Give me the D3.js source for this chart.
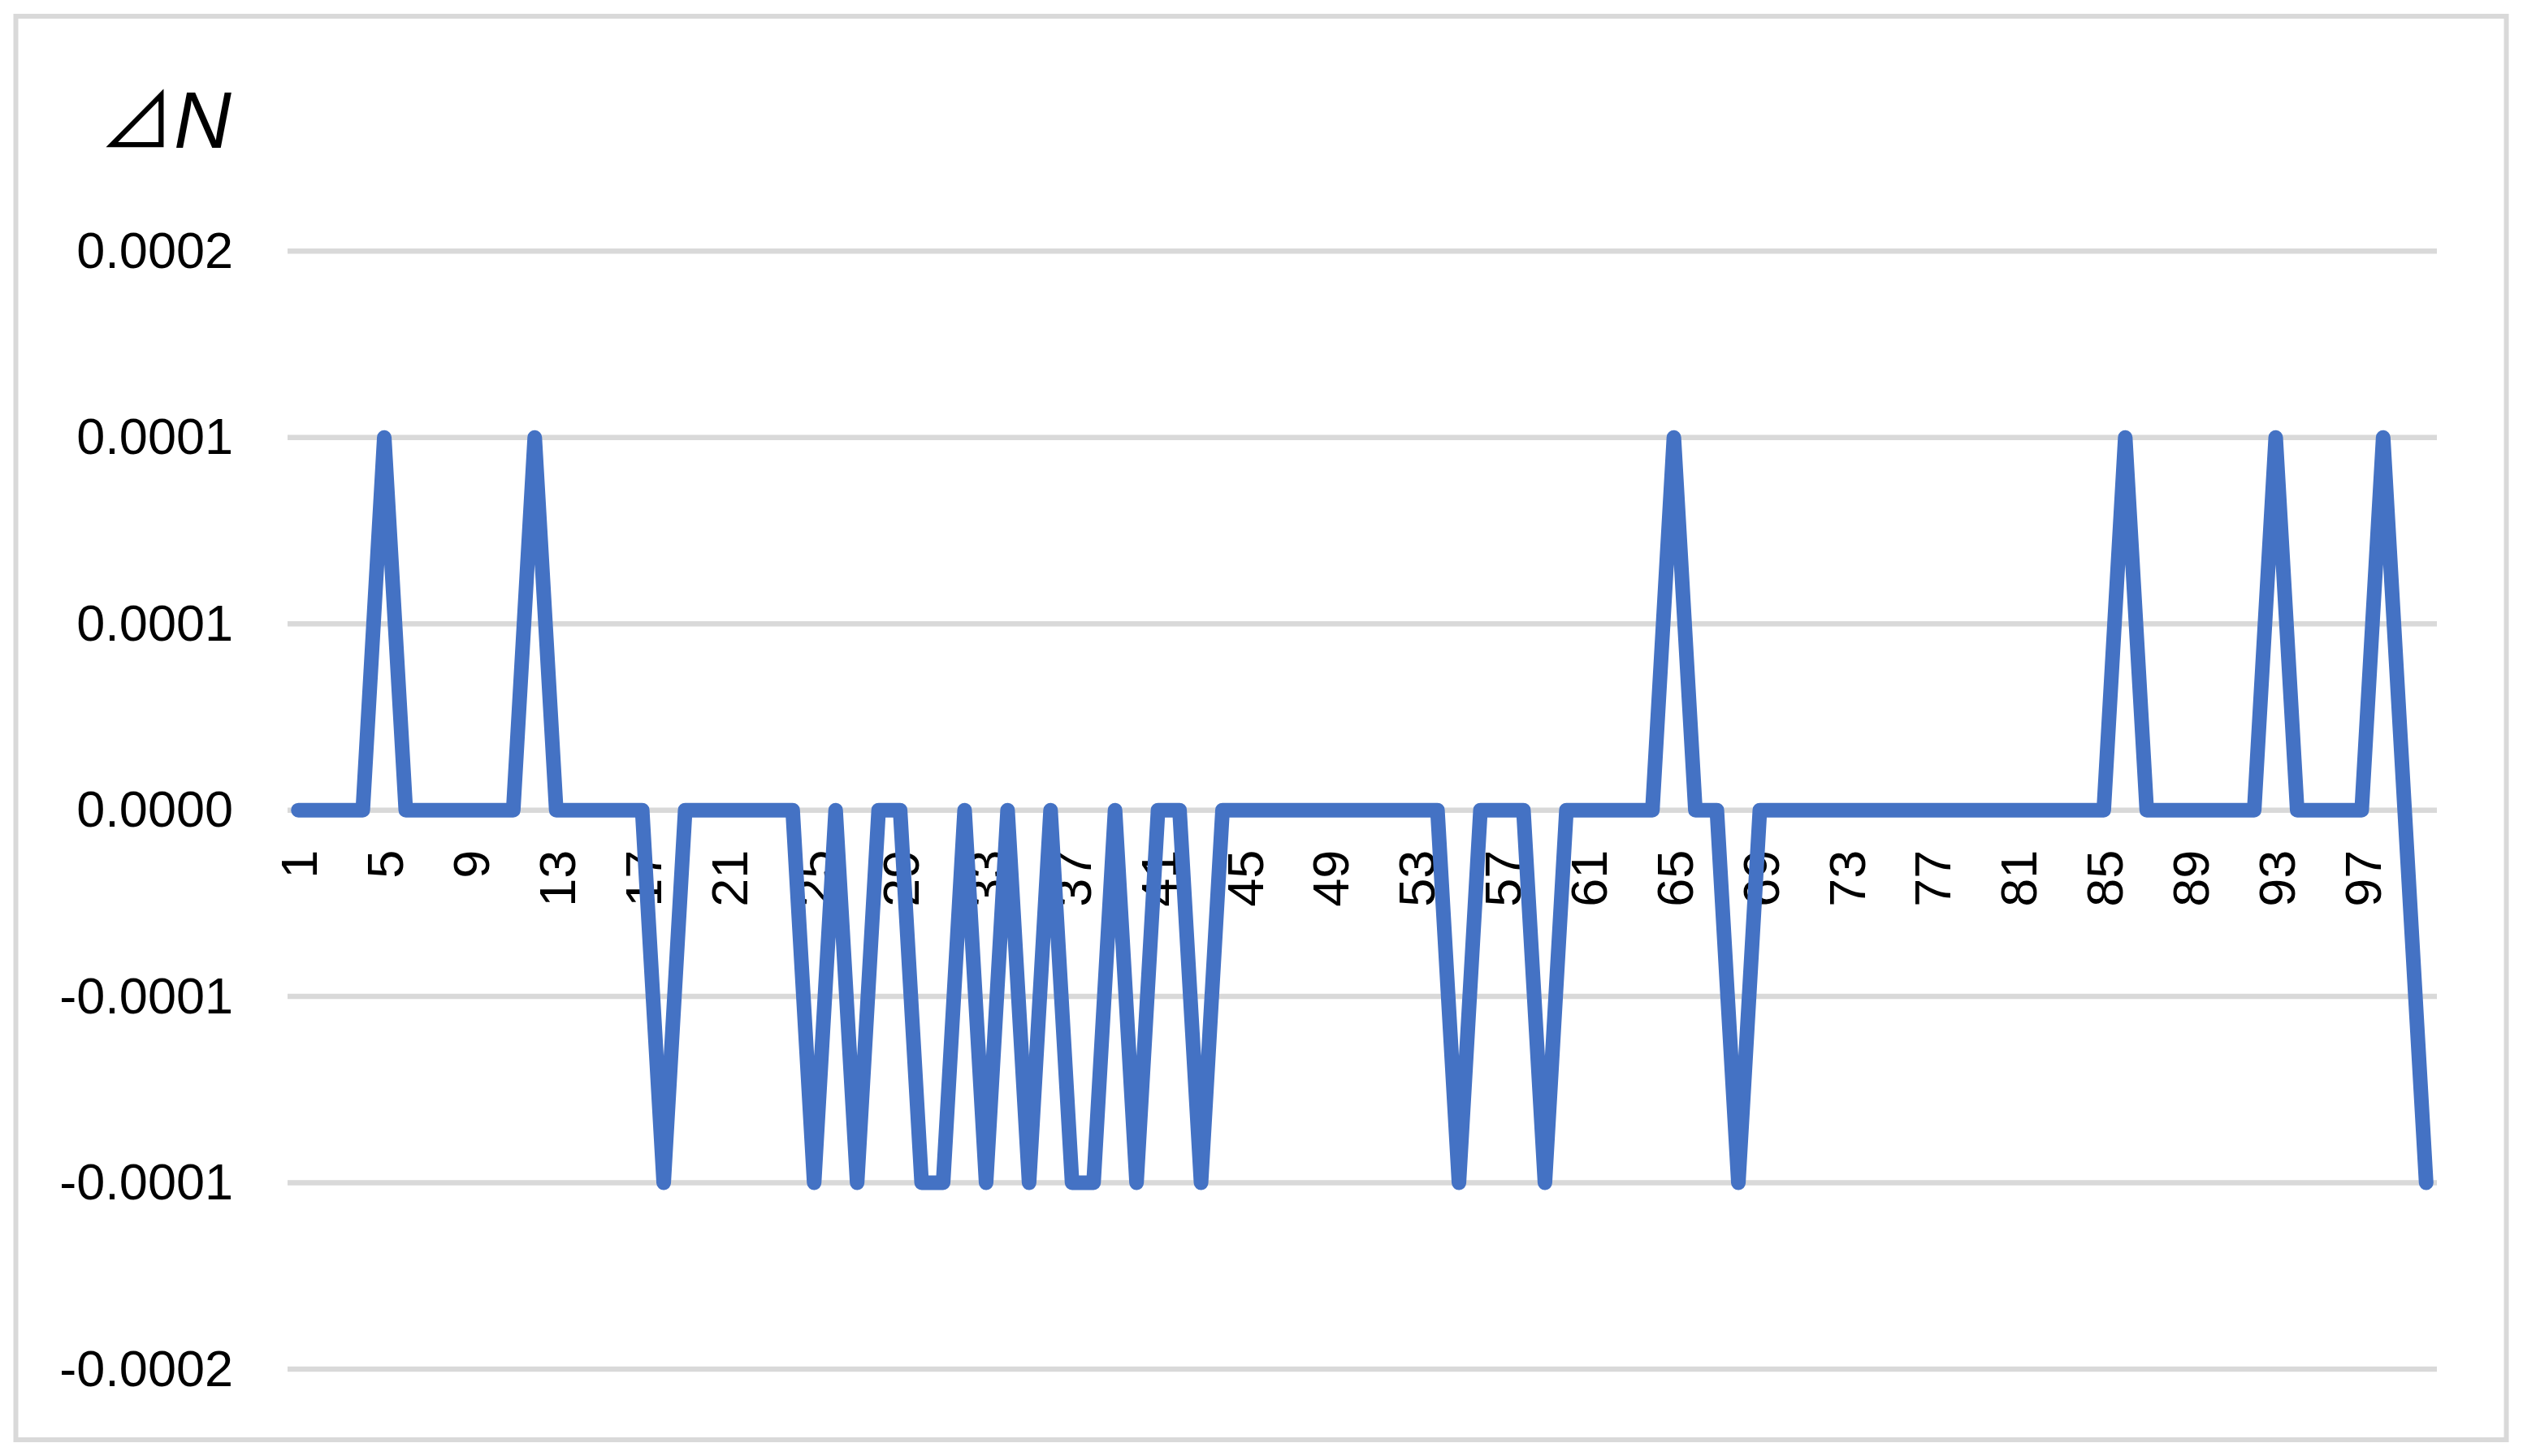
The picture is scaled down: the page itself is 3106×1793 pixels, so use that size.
<!DOCTYPE html>
<html>
<head>
<meta charset="utf-8">
<script src="https://cdn.jsdelivr.net/npm/d3@7"></script>
<style>
  html, body { margin: 0; padding: 0; background: #fff; }
  svg { display: block; }
</style>
</head>
<body>
<svg class="chart"></svg>
<script>
// category index 1..100
const categories = d3.range(1, 101);
const xTickLabels = [1, 5, 9, 13, 17, 21, 25, 29, 33, 37, 41, 45, 49, 53, 57, 61, 65, 69, 73, 77, 81, 85, 89, 93, 97];

const deltaN = [
  0, 0, 0, 0, 0.0001, 0, 0, 0, 0, 0,
  0, 0.0001, 0, 0, 0, 0, 0, -0.0001, 0, 0,
  0, 0, 0, 0, -0.0001, 0, -0.0001, 0, 0, -0.0001,
  -0.0001, 0, -0.0001, 0, -0.0001, 0, -0.0001, -0.0001, 0, -0.0001,
  0, 0, -0.0001, 0, 0, 0, 0, 0, 0, 0,
  0, 0, 0, 0, -0.0001, 0, 0, 0, -0.0001, 0,
  0, 0, 0, 0, 0.0001, 0, 0, -0.0001, 0, 0,
  0, 0, 0, 0, 0, 0, 0, 0, 0, 0,
  0, 0, 0, 0, 0, 0.0001, 0, 0, 0, 0,
  0, 0, 0.0001, 0, 0, 0, 0, 0.0001, 0, -0.0001
];

const yTickValues = [-0.00015, -0.0001, -0.00005, 0, 0.00005, 0.0001, 0.00015];
const yTickLabels = ['-0.0002', '-0.0001', '-0.0001', '0.0000', '0.0001', '0.0001', '0.0002'];

const w = 3106;
const h = 1793;
const plot = { left: 354, right: 3000, top: 309.3, bottom: 1686 };
const font = "'Liberation Sans', Arial, sans-serif";

const svg = d3.select('.chart')
  .attr('width', w)
  .attr('height', h);

// outer frame
svg.append('rect')
  .attr('x', 19.5)
  .attr('y', 20)
  .attr('width', 3066)
  .attr('height', 1753)
  .attr('fill', '#fff')
  .attr('stroke', '#d9d9d9')
  .attr('stroke-width', 6);

const xScale = d3.scalePoint()
  .domain(categories)
  .range([plot.left, plot.right])
  .padding(0.5);

const yScale = d3.scaleLinear()
  .domain([-0.00015, 0.00015])
  .range([plot.bottom, plot.top]);

// gridlines
svg.append('g')
  .attr('class', 'grid')
  .selectAll('line')
  .data(yTickValues)
  .enter()
  .append('line')
  .attr('x1', plot.left)
  .attr('x2', plot.right)
  .attr('y1', d => yScale(d))
  .attr('y2', d => yScale(d))
  .attr('stroke', '#d9d9d9')
  .attr('stroke-width', 6.5);

// y axis labels
const yAxis = svg.append('g')
  .attr('class', 'y-axis')
  .attr('transform', `translate(${plot.left}, 0)`)
  .call(d3.axisLeft(yScale)
    .tickValues(yTickValues)
    .tickSize(0)
    .tickPadding(67)
    .tickFormat((d, i) => yTickLabels[i]));
yAxis.select('.domain').remove();
yAxis.selectAll('text')
  .attr('fill', '#000')
  .style('font-family', font)
  .style('font-size', '63px');

// x axis labels (rotated, at the zero line)
const xAxis = svg.append('g')
  .attr('class', 'x-axis')
  .attr('transform', `translate(0, ${yScale(0)})`)
  .call(d3.axisBottom(xScale)
    .tickValues(xTickLabels)
    .tickSize(0));
xAxis.select('.domain').remove();
xAxis.selectAll('text')
  .attr('fill', '#000')
  .attr('y', 0)
  .attr('x', -49)
  .attr('dy', '0.36em')
  .attr('transform', 'rotate(-90)')
  .attr('text-anchor', 'end')
  .style('font-family', font)
  .style('font-size', '63px');

// series line
const line = d3.line()
  .x((d, i) => xScale(categories[i]))
  .y(d => yScale(d));

svg.append('path')
  .datum(deltaN)
  .attr('d', line)
  .attr('fill', 'none')
  .attr('stroke', '#4472c4')
  .attr('stroke-width', 18)
  .attr('stroke-linejoin', 'round')
  .attr('stroke-linecap', 'round');

// axis title
const title = svg.append('text')
  .attr('x', 122)
  .attr('y', 182)
  .attr('fill', '#000');
title.append('tspan')
  .style('font-family', "'Noto Sans CJK JP', 'DejaVu Sans', sans-serif")
  .style('font-size', '92px')
  .text('⊿');
title.append('tspan')
  .style('font-family', font)
  .style('font-style', 'italic')
  .style('font-size', '98px')
  .text('N');
</script>
</body>
</html>
